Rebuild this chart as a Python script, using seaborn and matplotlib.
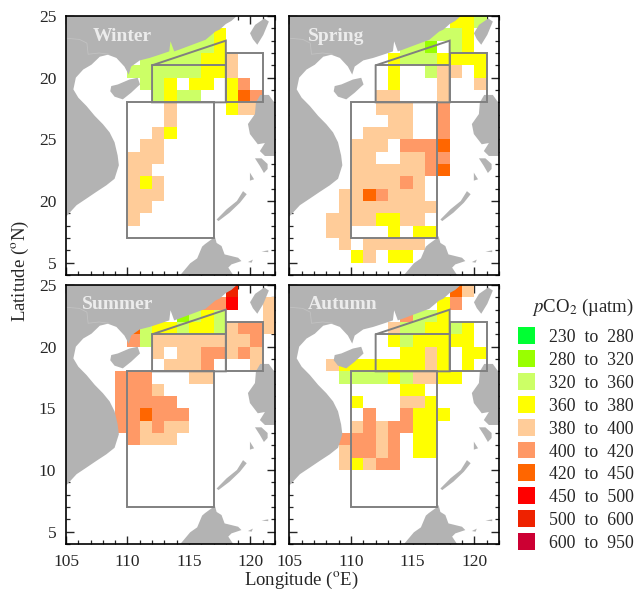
import numpy as np
import pandas as pd
import matplotlib
matplotlib.use('Agg')
import matplotlib.pyplot as plt
from matplotlib.colors import ListedColormap
from matplotlib.patches import Polygon
import seaborn as sns

sns.set_style('white')
plt.rcParams['font.family'] = ['Liberation Serif', 'DejaVu Serif']
plt.rcParams['mathtext.fontset'] = 'stix'

# 1. DATA - one string per latitude band (24N at the top, 4N at the bottom),
# one character per degree of longitude (105E..121E), digit = pCO2 class
winter = [
    ".................",
    "...........23....",
    "........22223....",
    "......22222334...",
    ".....222222334...",
    "......223.33.35..",
    ".......2322..365.",
    "........4....344.",
    "........4........",
    ".......43........",
    "......44.........",
    ".....444.........",
    ".....44..........",
    ".....434.........",
    ".....444.........",
    ".....44..........",
    ".....4...........",
    ".................",
    ".................",
    ".................",
    ".................",
]
spring = [
    ".............332.",
    "...........2223..",
    ".........221.23..",
    "........32223333.",
    "........3..244.3.",
    "........3...4..4.",
    ".......44...4....",
    ".......444..5....",
    "........44..5....",
    "......4444..5....",
    ".....444.5556....",
    ".....44..4455....",
    ".....44444456....",
    ".....444454......",
    "....4465444......",
    "....44444444.....",
    "...44443344......",
    "...44...3.33.....",
    "....4.44444......",
    ".....34.33.......",
    ".................",
]
summer = [
    ".............8...",
    "...........557..4",
    ".........1232...4",
    ".....623323324554",
    ".....52444444445.",
    ".......4.4455454.",
    "........4445...4.",
    "....555...44.....",
    "....5554.........",
    "....55555........",
    "....556555.......",
    "....554544.......",
    ".....5444........",
    ".................",
    ".................",
    ".................",
    ".................",
    ".................",
    ".................",
    ".................",
    ".................",
]
autumn = [
    ".............64..",
    "............35...",
    ".........5223....",
    "........4223323..",
    "........3233333..",
    ".........3343.33.",
    "...4333333343.3..",
    "....2222324433...",
    ".........33......",
    ".....3...443.....",
    "......5..5333....",
    ".....4545533.....",
    "....55545.33.....",
    "....45545.33.....",
    "....43455........",
    ".................",
    ".................",
    ".................",
    ".................",
    ".................",
    ".................",
]
lons = list(range(105, 122))
lats = list(range(24, 3, -1))

class_labels = ['230  to  280', '280  to  320', '320  to  360', '360  to  380', '380  to  400',
                '400  to  420', '420  to  450', '450  to  500', '500  to  600', '600  to  950']
class_colors = ['#00ff33', '#99ff00', '#ccff66', '#ffff00', '#ffcc99',
                '#ff9966', '#ff6600', '#ff0000', '#ee2200', '#cc0033']
cmap = ListedColormap(class_colors)

# land outlines, lon/lat
mainland = [(118.9, 25), (118.45, 24.6), (118.0, 24.35), (117.5, 23.9), (117.15, 23.74), (116.35, 23.07),
            (115.27, 22.67), (114.2, 22.27),
            (113.8, 22.13), (113.5, 22.95), (113.4, 22.13), (112.6, 21.86), (111.8, 21.6), (111.0, 21.4),
            (110.3, 20.9), (110.1, 20.25), (109.75, 20.9), (109.1, 21.6), (108.4, 21.86), (107.75, 21.7),
            (107.07, 21.05), (106.4, 20.66), (105.8, 20), (105.6, 19.05), (106, 18.38), (106.67, 17.7),
            (107.34, 16.9), (108, 16.23), (108.55, 15.56), (108.95, 14.76), (109.2, 13.7), (109.3, 12.9),
            (108.95, 11.8), (108.28, 11.27), (107.47, 10.74), (106.67, 10.2), (105.86, 9.66), (105, 8.73),
            (105, 25)]
hainan = [(108.68, 19.32), (109.22, 19.45), (110.16, 19.85), (110.83, 19.99), (111.02, 19.45), (110.3, 18.78),
          (109.62, 18.24), (108.95, 18.46), (108.6, 18.9)]
taiwan = [(121.13, 24.8), (121.5, 24.55), (121.05, 23.47), (120.56, 22.67), (120.2, 23.12), (119.97, 23.6),
          (120.38, 24.28)]
luzon = [(120.8, 18.6), (121.5, 18.6), (122, 17.9), (122, 13.65), (121.18, 13.65), (120.77, 14.05), (121.18, 14.7),
         (120.6, 14.6), (119.96, 15.43), (119.8, 16.24), (120.37, 17.05), (120.45, 18)]
mindoro = [(120.37, 13.46), (120.9, 13.46), (121.4, 13.0), (121.4, 12.6), (121.1, 12.27), (120.77, 12.84)]
palawan = [(117.25, 8.5), (118.07, 9.33), (118.9, 10.0), (119.4, 10.8), (119.7, 10.55), (119.15, 9.86),
           (118.3, 9.05), (117.4, 8.37)]
busuanga = [(119.96, 12.3), (120.3, 11.76), (119.96, 11.65)]
borneo = [(114.3, 4), (115.1, 4.95), (115.67, 5.35), (116.07, 6.3), (116.3, 6.5), (116.85, 6.9), (117.1, 7.15),
          (117.25, 6.6), (117.65, 6.35), (117.9, 5.67), (119, 5.4), (119.27, 5.13), (118.46, 4.86), (118.2, 4.6),
          (118.6, 4)]
islet_a = [(120.9, 5.9), (121.45, 6.0), (121.45, 5.85)]
islet_b = [(119.8, 5.05), (120.2, 5.25), (120.1, 5.0)]
land = [mainland, hainan, taiwan, luzon, mindoro, palawan, busuanga, borneo, islet_a, islet_b]
border = [(105, 23.2), (106.1, 23.1), (106.7, 22.8), (106.8, 21.9), (107.7, 22.0), (108.5, 21.9)]

# study boxes
south_box = [(110, 18), (117, 18), (117, 7), (110, 7)]
north_box = [(112, 18), (118, 18), (118, 23), (112, 21)]
north_line = [(112, 21), (118, 21)]
east_box = [(118, 18), (121, 18), (121, 22), (118, 22)]

# 2. FIGURE, everything placed in pixels of the 635x591 reference
W, H = 635, 591
fig = plt.figure(figsize=(W / 100, H / 100), dpi=100)


def px_axes(left, right, top, bottom):
    return fig.add_axes([left / W, 1 - bottom / H, (right - left) / W, (bottom - top) / H])


def to_cells(points):
    return [(lon - 105, 25 - lat) for lon, lat in points]


panels = [
    ('Winter', winter, (66, 275, 16, 275), (2.2, 1.7), ['25', '20', '25', '20', '5']),
    ('Spring', spring, (289.3, 499, 16, 275), (1.5, 1.7), None),
    ('Summer', summer, (66, 275, 285, 544), (1.3, 1.6), ['25', '20', '15', '10', '5']),
    ('Autumn', autumn, (289.3, 499, 285, 544), (1.5, 1.6), None),
]

# 3. DRAW PANELS
for name, rows, box, title_pos, ylabels in panels:
    ax = px_axes(*box)
    grid = pd.DataFrame([[np.nan if c == '.' else int(c) for c in r] for r in rows], index=lats, columns=lons)
    sns.heatmap(grid, cmap=cmap, vmin=-0.5, vmax=9.5, cbar=False, ax=ax, xticklabels=False, yticklabels=False)
    ax.set_xlabel('')
    ax.set_ylabel('')

    for shape in land:
        ax.add_patch(Polygon(to_cells(shape), closed=True, facecolor='#b3b3b3', edgecolor='none', zorder=2))
    ax.plot(*zip(*to_cells(border)), color='#c2c2c2', lw=0.6, zorder=2.1)

    for shape in [south_box, north_box, east_box]:
        ax.add_patch(Polygon(to_cells(shape), closed=True, facecolor='none', edgecolor='#808080', lw=1.4, zorder=3))
    ax.plot(*zip(*to_cells(north_line)), color='#808080', lw=1.4, zorder=3)

    ax.text(title_pos[0], title_pos[1], name, color='#ececec', fontsize=14, fontweight='bold', va='center', ha='left', zorder=4)

    ax.set_xlim(0, 17)
    ax.set_ylim(21, 0)
    ax.set_xticks([0, 5, 10, 15])
    ax.set_yticks([0, 5, 10, 15, 20])
    ax.set_xticks(range(18), minor=True)
    ax.set_yticks(range(22), minor=True)
    ax.tick_params(which='major', direction='in', length=6, width=1, top=True, right=True, bottom=True, left=True,
                   labelsize=12.5)
    ax.tick_params(which='minor', direction='in', length=3.2, width=0.9, top=True, right=True, bottom=True, left=True)
    ax.tick_params(axis='x', which='major', pad=7)
    ax.tick_params(axis='y', which='major', pad=7)
    ax.set_xticklabels(['105', '110', '115', '120'] if box[2] > 100 else [])
    ax.set_yticklabels(ylabels if ylabels else [])
    for spine in ax.spines.values():
        spine.set_visible(True)
        spine.set_linewidth(1.2)
        spine.set_color('black')

# 4. AXIS LABELS
fig.text(301 / W, 1 - 580 / H, 'Longitude ($^{\\mathrm{o}}$E)', fontsize=13.5, ha='center', va='center')
fig.text(20 / W, 1 - 271 / H, 'Latitude ($^{\\mathrm{o}}$N)', fontsize=13.5, ha='center', va='center', rotation=90)

# 5. COLOUR KEY
key = px_axes(515.1, 537.9, 324.3, 552.9)
key_grid = pd.DataFrame(np.arange(len(class_colors)).reshape(-1, 1), index=class_labels)
sns.heatmap(key_grid, cmap=cmap, vmin=-0.5, vmax=9.5, cbar=False, ax=key, linewidths=4.2, linecolor='white',
            xticklabels=False, yticklabels=True)
key.yaxis.tick_right()
key.tick_params(axis='y', length=0, pad=8, labelsize=12.8, labelrotation=0)
fig.text(583 / W, 1 - 307 / H, '$\\mathit{p}$CO$_2$ (\u00b5atm)', fontsize=13.5, ha='center', va='center')

fig.savefig('out.png', dpi=100)
